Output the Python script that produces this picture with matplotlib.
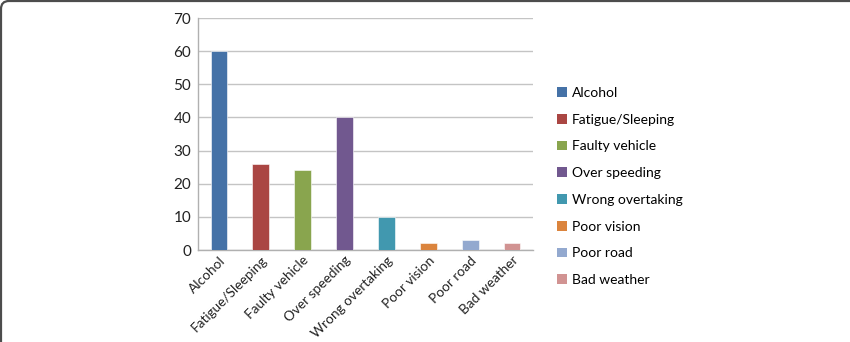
import matplotlib
matplotlib.use("Agg")
import matplotlib.pyplot as plt
from matplotlib.patches import Patch, PathPatch
from matplotlib.path import Path

causes = ["Alcohol", "Fatigue/Sleeping", "Faulty vehicle", "Over speeding",
          "Wrong overtaking", "Poor vision", "Poor road", "Bad weather"]
counts = [60, 26, 24, 40, 10, 2, 3, 2]
colors = ["#4572A7", "#AA4643", "#89A54E", "#71588F",
          "#4198AF", "#DB843D", "#93A9CF", "#D19392"]
yticks = [0, 10, 20, 30, 40, 50, 60, 70]

plt.rcParams["font.family"] = ["Lato", "DejaVu Sans"]
plt.rcParams["font.size"] = 10

W, H = 850, 342
fig = plt.figure(figsize=(W / 100, H / 100), dpi=100)

# outer frame: top and left edges with a rounded corner, in pixel units
r = 8
verts = [(1, 0), (1, H - 1 - r), (1, H - 1), (1 + r, H - 1), (W, H - 1)]
codes = [Path.MOVETO, Path.LINETO, Path.CURVE3, Path.CURVE3, Path.LINETO]
frame = PathPatch(Path([(vx / W, vy / H) for vx, vy in verts], codes),
                  transform=fig.transFigure, facecolor="none",
                  edgecolor="#4d4d4d", linewidth=1.6)
fig.patches.append(frame)

ax = fig.add_axes([198 / W, 92 / H, 335 / W, 232 / H])

x = list(range(len(causes)))
ax.bar(x, counts, width=0.4, color=colors, edgecolor="white", linewidth=0.4, zorder=3)

ax.set_xlim(-0.5, len(causes) - 0.5)
ax.set_ylim(0, 70)
ax.set_yticks(yticks)
ax.yaxis.grid(True, color="#c4c4c4", linewidth=1.0, zorder=0)
ax.set_axisbelow(True)

ax.set_xticks(x)
ax.set_xticklabels(causes, rotation=45, ha="right", rotation_mode="anchor")
ax.tick_params(axis="x", length=0, pad=3, labelsize=9.8, colors="#222222")
ax.tick_params(axis="y", length=0, pad=5, labelsize=11, labelcolor="#222222")

for side in ["top", "right"]:
    ax.spines[side].set_visible(False)
for side in ["left", "bottom"]:
    ax.spines[side].set_color("#b0b0b0")
    ax.spines[side].set_linewidth(1.0)

handles = [Patch(facecolor=c, edgecolor="none") for c in colors]
fig.legend(handles, causes, loc="upper left", bbox_to_anchor=(550 / W, 1 - 80 / H),
           frameon=False, borderpad=0, handlelength=0.7, handleheight=0.7,
           handletextpad=0.35, labelspacing=1.06, fontsize=10)

fig.savefig("out.png", dpi=100, facecolor="white")
